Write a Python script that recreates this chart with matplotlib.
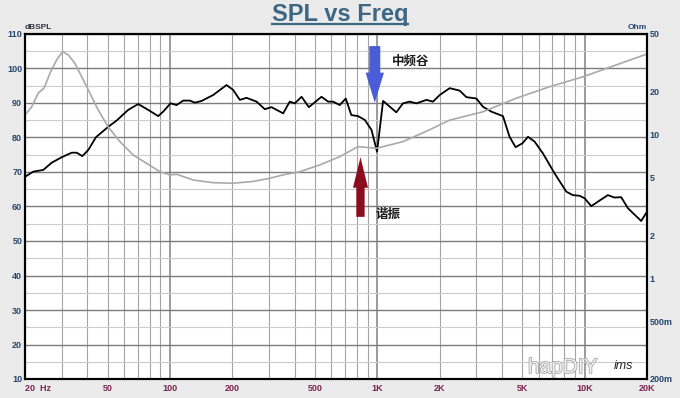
import matplotlib
matplotlib.use("Agg")
import matplotlib.pyplot as plt
import matplotlib.patheffects as pe
from matplotlib.lines import Line2D
from matplotlib.ticker import NullLocator

# SPL response, black curve on the left axis (dB)
spl_freq = [20, 21.9, 24.5, 26.9, 30.1, 33.6, 35.5, 37.8, 40.4, 44.0,
            50.4, 55.3, 62.9, 70.3, 78.6, 87.8, 92.8, 100.7, 107.7, 115.9,
            124.8, 131.9, 142.2, 161.5, 187.5, 201.8, 217.4, 234, 261.8, 287,
            309, 351.6, 378.6, 400, 431.5, 467.7, 538.3, 579.6, 612.5, 659.3,
            704.8, 750, 807.4, 870.7, 938, 997.6, 1067, 1236, 1331, 1433,
            1545, 1726, 1858, 2000, 2234, 2495, 2691, 3007, 3237, 3550,
            4040, 4347, 4647, 5011, 5333, 5742, 6296, 7166, 8165, 8770,
            9462, 10000, 10770, 11590, 12950, 13940, 15020, 16180, 18750, 20000]
spl_db = [68.6, 70.1, 70.6, 72.7, 74.3, 75.6, 75.6, 74.6, 76.4, 80.1,
          83.1, 84.9, 88.0, 89.7, 88.0, 86.2, 87.5, 89.9, 89.4, 90.7,
          90.7, 90.1, 90.6, 92.3, 95.2, 93.8, 90.9, 91.5, 90.4, 88.2,
          88.8, 87.0, 90.4, 89.9, 91.8, 88.8, 91.8, 90.4, 90.4, 89.4,
          91.3, 86.5, 86.2, 85.1, 82.2, 75.9, 90.6, 87.3, 89.9, 90.4,
          89.9, 90.9, 90.4, 92.3, 94.3, 93.6, 91.7, 91.3, 88.9, 87.5,
          86.2, 80.2, 77.2, 78.3, 80.2, 78.8, 75.4, 69.6, 64.3, 63.3,
          63.1, 62.4, 60.1, 61.4, 63.3, 62.6, 62.7, 59.5, 55.8, 58.5]

# impedance, grey curve on the right axis (Ohm, log)
imp_freq = [20, 21.5, 23.2, 24.7, 26.4, 28.4, 30.4, 32.4, 34.8, 39.7,
            45.1, 50.4, 57.4, 66.5, 77.2, 89.5, 100, 107.7, 129.5, 161.5,
            201, 251, 300, 350, 423, 528, 659, 807, 991, 1331,
            1790, 2234, 3237, 4690, 6780, 9820, 14220, 20000]
imp_ohm = [13.7, 15.5, 19.5, 21.0, 26.7, 33.0, 37.7, 35.7, 31.3, 21.5,
           14.8, 11.3, 8.93, 7.21, 6.31, 5.52, 5.24, 5.3, 4.83, 4.63,
           4.59, 4.72, 4.95, 5.24, 5.52, 6.15, 7.02, 8.24, 8.03, 8.93,
           10.8, 12.6, 14.4, 17.9, 21.5, 25.2, 30.5, 36.3]

x_ticks = [20, 50, 100, 200, 500, 1000, 2000, 5000, 10000, 20000]
x_labels = ['20  Hz', '50', '100', '200', '500', '1K', '2K', '5K', '10K', '20K']
db_ticks = list(range(10, 111, 10))
ohm_ticks = [0.2, 0.5, 1, 2, 5, 10, 20, 50]
ohm_labels = ['200m', '500m', '1', '2', '5', '10', '20', '50']

plt.rcParams['font.family'] = ['Liberation Sans', 'DejaVu Sans']
cjk = ['Noto Sans CJK SC', 'DejaVu Sans']

fig = plt.figure(figsize=(6.8, 3.98), dpi=100, facecolor='#ebebeb')
ax = fig.add_axes([25 / 680, 19 / 398, 622 / 680, 345 / 398])
ax.set_facecolor('white')
ax.set_xscale('log')
ax.set_xlim(20, 20000)
ax.set_ylim(10, 110)

# grid lines
grid_freqs = [m * 10 ** e for e in (1, 2, 3, 4) for m in range(1, 10)
              if 20 <= m * 10 ** e <= 20000]
for f in grid_freqs:
    dec = f in (100, 1000, 10000)
    ax.axvline(f, color='#808080' if dec else '#a4a4a4',
               lw=1.1 if dec else 0.8, zorder=0)
for v in range(10, 111, 5):
    ax.axhline(v, color='#7c7c7c' if v % 10 == 0 else '#cccccc',
               lw=1.0 if v % 10 == 0 else 0.8, zorder=0)

ax.plot(spl_freq, spl_db, color='black', lw=1.3, zorder=3)

ax.set_xticks(x_ticks, x_labels)
ax.xaxis.set_minor_locator(NullLocator())
ax.set_yticks(db_ticks)
ax.tick_params(axis='x', length=0, pad=3.5, labelsize=6.5, labelcolor='#7b2352')
ax.tick_params(axis='y', length=0, pad=2, labelsize=6.5, labelcolor='#24466e')
for lab in ax.get_xticklabels() + ax.get_yticklabels():
    lab.set_fontweight('bold')
ax.get_xticklabels()[0].set_horizontalalignment('left')
for s in ax.spines.values():
    s.set_linewidth(1.5)
    s.set_color('black')

ax2 = ax.twinx()
ax2.set_yscale('log')
ax2.set_ylim(0.2, 50)
ax2.plot(imp_freq, imp_ohm, color='#a9a9a9', lw=1.2, zorder=2)
ax2.set_yticks(ohm_ticks, ohm_labels)
ax2.yaxis.set_minor_locator(NullLocator())
ax2.tick_params(axis='y', length=0, pad=2, labelsize=6.5, labelcolor='#24466e')
for lab in ax2.get_yticklabels():
    lab.set_fontweight('bold')
for s in ax2.spines.values():
    s.set_linewidth(1.5)

ax.text(0.0, 1.008, 'dBSPL', transform=ax.transAxes, ha='left', va='bottom',
        fontsize=6, fontweight='bold', color='#333344')
ax.text(1.0, 1.008, 'Ohm', transform=ax.transAxes, ha='right', va='bottom',
        fontsize=6, fontweight='bold', color='#24466e')

# annotations
ax.annotate('', xy=(973, 90.1), xytext=(973, 106.5),
            arrowprops=dict(width=7.9, headwidth=13.2, headlength=21.6, shrink=0,
                            facecolor='#4a5cd6', edgecolor='none'), zorder=5)
ax.annotate('', xy=(830, 74.3), xytext=(830, 57.0),
            arrowprops=dict(width=6, headwidth=10.8, headlength=22, shrink=0,
                            facecolor='#8c0c1e', edgecolor='none'), zorder=5)
ax.text(1450, 102.2, '中频谷', family=cjk, fontsize=9, fontweight='bold',
        ha='center', va='center', color='#1a1a1a', zorder=6)
ax.text(1124, 57.8, '谐振', family=cjk, fontsize=9, fontweight='bold',
        ha='center', va='center', color='#1a1a1a', zorder=6)

# title with underline
title = fig.text(0.5, 1 - 14 / 398, 'SPL vs Freq', ha='center', va='center',
                 fontsize=17, fontweight='bold', color='#3d6784')
fig.canvas.draw()
bb = title.get_window_extent()
inv = fig.transFigure.inverted()
(x0, y0), (x1, _) = inv.transform([(bb.x0, bb.y0 + 1.5), (bb.x1, bb.y0)])
fig.add_artist(Line2D([x0, x1], [y0, y0], transform=fig.transFigure,
                      color='#3d6784', lw=1.6))

# marks in the lower right corner
fig.text(614 / 680, 1 - 372 / 398, 'ims', fontsize=9, fontstyle='italic',
         color='#222222', ha='left', va='bottom')
fig.text(528 / 680, 1 - 377 / 398, 'hapDIY', fontsize=15, color='#f4f4f4',
         ha='left', va='bottom', alpha=0.9, zorder=10,
         path_effects=[pe.Stroke(linewidth=1.1, foreground='#9a9a9a'), pe.Normal()])

fig.savefig('out.png', dpi=100, facecolor=fig.get_facecolor())
